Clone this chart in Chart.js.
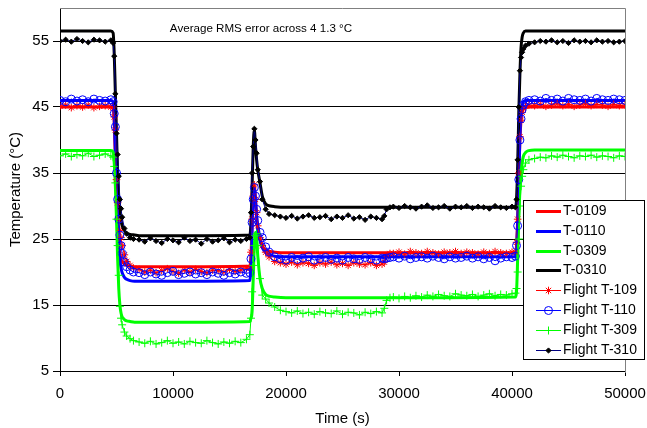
<!DOCTYPE html>
<html>
<head>
<meta charset="utf-8">
<script src="https://cdn.jsdelivr.net/npm/chart.js@4.4.1/dist/chart.umd.min.js"></script>
<style>
  html, body { margin: 0; padding: 0; background: #fff; }
  canvas { display: block; }
</style>
</head>
<body>
<canvas id="tempChart" width="647" height="428"></canvas>
<script>
// Tick values
const xTickValues = [0, 10000, 20000, 30000, 40000, 50000];
const yTickValues = [5, 15, 25, 35, 45, 55];

const seriesNames = ['T-0109', 'T-0110', 'T-0309', 'T-0310', 'Flight T-109', 'Flight T-110', 'Flight T-309', 'Flight T-310'];

// Model time base (s)
const modelTime = [
  0, 4500, 4700, 4800, 4900, 5000, 5100, 5200, 5300, 5400, 5500, 5700, 5900, 6200, 6600, 7000, 8000, 12000, 16800,
  16900, 17000, 17100, 17200, 17300, 17400, 17500, 17700, 17900, 18200, 18600, 19000, 20000, 24000, 28700, 34000, 40300,
  40400, 40500, 40600, 40700, 40800, 40900, 41000, 41200, 41500, 42000, 46000, 50000
];

const t0109 = [
  45.0, 45.0, 44.8, 42.5, 37, 31, 26.5, 24, 22.8, 22.0, 21.6, 21.2, 21.0, 20.9, 20.8, 20.8, 20.8, 20.8, 20.9,
  22.5, 27, 31.5, 33, 31, 28.5, 26.5, 25, 24, 23.4, 23.1, 23.0, 22.9, 22.9, 22.9, 22.9, 22.9,
  24, 28, 34.5, 40, 43, 44.3, 44.8, 45.0, 45.0, 45.0, 45.0, 45.0
];
const t0110 = [
  46.0, 46.0, 45.8, 43.5, 38, 31.5, 26.5, 23.5, 21.8, 20.6, 19.9, 19.2, 18.9, 18.7, 18.6, 18.6, 18.6, 18.6, 18.7,
  21, 26.5, 31, 32.8, 31, 28.5, 26.5, 24.8, 23.7, 23, 22.6, 22.4, 22.3, 22.3, 22.3, 22.3, 22.3,
  23.5, 27.5, 34, 40.5, 43.8, 45.2, 45.8, 46.0, 46.0, 46.0, 46.0, 46.0
];
const t0309 = [
  38.4, 38.4, 38.2, 36.5, 33, 28, 22, 17.5, 15, 13.8, 13.2, 12.8, 12.6, 12.5, 12.4, 12.4, 12.4, 12.4, 12.5,
  13, 14, 19, 24, 26, 25, 22.5, 19, 17.5, 16.6, 16.3, 16.2, 16.1, 16.1, 16.1, 16.1, 16.2,
  17, 22, 28, 32.5, 35, 36.5, 37.5, 38.1, 38.4, 38.5, 38.5, 38.5
];
const t0310 = [
  56.5, 56.5, 56.2, 53, 47, 41, 35, 31, 29, 27.8, 27, 26.3, 25.9, 25.7, 25.6, 25.5, 25.5, 25.5, 25.6,
  27.5, 33, 39, 41.5, 39, 37, 35.5, 33.5, 31.5, 30.3, 30.0, 29.9, 29.8, 29.8, 29.8, 29.8, 29.8,
  31, 36, 44, 50, 54, 55.6, 56.2, 56.5, 56.5, 56.5, 56.5, 56.5
];

// Flight time base (s)
const flightTime = [
  0, 500, 1000, 1500, 2000, 2500, 3000, 3500, 4000, 4500,
  4700, 4800, 4900, 5000, 5100, 5200, 5300, 5400, 5500, 5700, 5900, 6200, 6500,
  7000, 7500, 8000, 8500, 9000, 9500, 10000, 10500, 11000, 11500, 12000, 12500, 13000, 13500, 14000, 14500, 15000, 15500, 16000, 16500,
  16800, 16900, 17000, 17100, 17200, 17300, 17400, 17500, 17700, 17900, 18200, 18500,
  19000, 19500, 20000, 20500, 21000, 21500, 22000, 22500, 23000, 23500, 24000, 24500, 25000, 25500, 26000, 26500, 27000, 27500, 28000, 28500,
  28700, 28900, 29200,
  29500, 30000, 30500, 31000, 31500, 32000, 32500, 33000, 33500, 34000, 34500, 35000, 35500, 36000, 36500, 37000, 37500, 38000, 38500, 39000, 39500, 40000,
  40300, 40400, 40500, 40600, 40700, 40800, 40900, 41000, 41200, 41500,
  42000, 42500, 43000, 43500, 44000, 44500, 45000, 45500, 46000, 46500, 47000, 47500, 48000, 48500, 49000, 49500, 50000
];

const flight109 = [
  45.1, 45.3, 44.9, 45.2, 45.0, 45.3, 44.9, 45.1, 45.2, 45.0,
  45.0, 43.5, 41.5, 34, 30.5, 28, 26.3, 25.2, 24, 22.6, 21.6, 21, 20.6,
  20.4, 20.0, 20.3, 19.9, 20.2, 20.5, 20.1, 19.8, 20.3, 20.0, 20.4, 20.1, 19.9, 20.3, 20.2, 20.0, 20.4, 20.1, 20.3, 20.5,
  20.6, 23, 28, 31.5, 33.2, 31, 29, 27, 25.2, 24, 23, 22.3,
  21.6, 21.4, 21.2, 21.5, 21.1, 21.4, 21.3, 21.0, 21.4, 21.2, 21.5, 21.1, 21.3, 21.0, 21.4, 21.2, 21.1, 21.4, 21.0, 21.2,
  21.5, 22.4, 22.8,
  22.8, 23.0, 22.7, 23.1, 22.9, 22.8, 23.1, 22.9, 22.7, 23.0, 22.9, 23.1, 22.8, 23.0, 22.9, 22.7, 23.0, 22.8, 23.1, 22.9, 22.8, 23.0,
  23, 24.5, 28, 35, 40.5, 43, 44.2, 44.8, 45.1, 45.3,
  45.2, 45.4, 45.1, 45.3, 45.5, 45.2, 45.4, 45.1, 45.3, 45.5, 45.2, 45.4, 45.3, 45.1, 45.4, 45.2, 45.3
];
const flight110 = [
  46.0, 45.8, 46.2, 45.9, 46.1, 45.8, 46.2, 46.0, 45.9, 46.1,
  45.8, 44, 42, 35, 31, 28, 25.6, 24, 22.8, 21.5, 20.8, 20.3, 20.0,
  19.9, 19.6, 20.0, 19.7, 19.5, 19.9, 20.1, 19.6, 19.8, 20.0, 19.7, 19.9, 19.6, 20.0, 19.8, 19.5, 19.9, 19.7, 20.0, 19.8,
  19.9, 22, 27.5, 31, 32.8, 31.5, 29.5, 27.8, 26, 25.2, 23.8, 23,
  22.3, 22.0, 21.8, 22.2, 21.9, 22.1, 22.3, 21.8, 22.0, 22.2, 21.9, 22.1, 21.8, 22.2, 22.0, 21.9, 22.2, 22.0, 21.8, 22.1,
  22.0, 22.1, 22.2,
  22.3, 22.1, 22.4, 22.0, 22.2, 22.3, 22.1, 22.4, 22.2, 22.0, 22.3, 22.1, 22.2, 22.4, 22.1, 22.3, 22.0, 22.2, 21.7, 22.1, 22.3, 22.2,
  22.4, 24, 27, 34, 40, 43.2, 44.6, 45.3, 45.8, 46.0,
  46.1, 45.9, 46.3, 46.0, 46.2, 45.9, 46.3, 46.1, 46.0, 46.2, 45.9, 46.3, 46.1, 46.0, 46.2, 46.1, 46.0
];
const flight309 = [
  37.6, 37.9, 37.5, 37.8, 37.6, 38.0, 37.5, 37.7, 37.9, 37.6,
  37.4, 36, 33.5, 28, 24, 19.5, 14.8, 13, 12, 10.9, 10.3, 9.9, 9.6,
  9.4, 9.2, 9.5, 9.1, 9.3, 9.6, 9.2, 9.4, 9.1, 9.5, 9.3, 9.2, 9.6, 9.3, 9.1, 9.4, 9.2, 9.5, 9.3, 9.8,
  10.5, 13, 17, 21, 24, 25.5, 25.8, 24, 19, 16.5, 15.9, 15.3,
  14.7, 14.2, 14.0, 13.8, 14.1, 13.7, 13.9, 13.6, 14.0, 13.8, 13.7, 14.1, 13.6, 13.9, 13.8, 13.5, 13.9, 13.7, 14.0, 13.8,
  14.5, 15.7, 16.1,
  16.2, 16.0, 16.3, 16.1, 16.4, 16.2, 16.5, 16.3, 16.6, 16.4, 16.3, 16.7, 16.5, 16.4, 16.6, 16.3, 16.5, 16.7, 16.4, 16.6, 16.5, 16.7,
  16.8, 17.5, 20, 25, 30, 33, 34.5, 35.5, 36.5, 37,
  37.2, 37.4, 37.3, 37.6, 37.4, 37.7, 37.5, 37.3, 37.6, 37.5, 37.7, 37.4, 37.6, 37.5, 37.3, 37.6, 37.5
];
const flight310 = [
  55.0, 55.2, 54.9, 55.3, 55.0, 54.8, 55.2, 55.1, 54.9, 55.1,
  54.7, 52.7, 47, 41, 37.8, 34.5, 31, 29.6, 28.3, 26.6, 25.8, 25.2, 25.0,
  24.9, 24.6, 25.1, 24.7, 24.4, 25.0, 24.8, 24.5, 25.2, 24.7, 24.9, 24.3, 25.0, 24.6, 24.8, 25.1, 24.5, 24.9, 24.7, 25.0,
  25.2, 29, 35, 39, 41.7, 40, 38, 35.5, 33.7, 31, 29.5, 28.8,
  28.6, 28.4, 28.2, 28.5, 28.1, 28.4, 28.6, 28.2, 28.3, 28.5, 28.0, 28.4, 28.2, 28.6, 28.1, 28.3, 27.9, 28.4, 28.2, 28.0,
  28.5, 29.5, 29.8,
  29.9, 29.7, 30.0, 29.8, 29.6, 29.9, 30.1, 29.7, 29.8, 30.0, 29.6, 29.9, 29.8, 30.0, 29.7, 29.9, 29.8, 29.6, 30.0, 29.8, 29.7, 29.9,
  29.8, 31, 37, 45, 50.5, 52.5, 53.3, 53.8, 54.3, 54.6,
  54.8, 55.0, 54.9, 55.1, 54.8, 55.0, 54.7, 55.1, 54.9, 55.0, 54.8, 55.1, 54.9, 55.0, 54.8, 54.9, 55.0
];

const noteText = 'Average RMS error across 4 1.3 °C';

const FONT = "Arial, 'Liberation Sans', sans-serif";
Chart.defaults.font.family = FONT;
Chart.defaults.color = '#000';

function pairs(xs, ys) {
    return xs.map((x, i) => ({ x: x, y: ys[i] }));
}

function modelSet(i, data, color) {
    return {
        label: seriesNames[i],
        data: pairs(modelTime, data),
        borderColor: color,
        borderWidth: 3,
        pointRadius: 0,
        cubicInterpolationMode: 'monotone',
        order: 8 - i
    };
}

function flightSet(i, data, lineColor, style, markColor, fillColor, radius) {
    return {
        label: seriesNames[i],
        data: pairs(flightTime, data),
        borderColor: lineColor,
        borderWidth: 1,
        pointStyle: style,
        pointRadius: radius,
        pointBorderColor: markColor,
        pointBackgroundColor: fillColor,
        pointBorderWidth: 1,
        order: 8 - i
    };
}

// gray top/right frame of the plot
const frame = {
    id: 'frame',
    beforeDatasetsDraw(chart) {
        const { ctx, chartArea: a } = chart;
        ctx.save();
        ctx.strokeStyle = '#808080';
        ctx.lineWidth = 1;
        ctx.beginPath();
        ctx.moveTo(a.left, a.top + 0.5);
        ctx.lineTo(Math.round(a.right) + 0.5, a.top + 0.5);
        ctx.lineTo(Math.round(a.right) + 0.5, a.bottom + 2);
        ctx.stroke();
        ctx.restore();
    }
};

const note = {
    id: 'note',
    afterDraw(chart) {
        const ctx = chart.ctx;
        ctx.save();
        ctx.font = '11.6px ' + FONT;
        ctx.fillStyle = '#000';
        ctx.textAlign = 'center';
        ctx.textBaseline = 'middle';
        ctx.fillText(noteText, 261, 29);
        ctx.restore();
    }
};

// legend box drawn over the plot, like the original
const legendBox = {
    id: 'legendBox',
    afterDraw(chart) {
        const ctx = chart.ctx;
        ctx.save();
        ctx.fillStyle = '#fff';
        ctx.fillRect(523, 200, 122, 160);
        ctx.strokeStyle = '#000';
        ctx.lineWidth = 1;
        ctx.strokeRect(523.5, 200.5, 121, 159);
        ctx.font = '14px ' + FONT;
        ctx.textBaseline = 'middle';
        chart.data.datasets.forEach((ds, i) => {
            const y = Math.round(211 + i * 19.8) + 0.5;
            ctx.strokeStyle = ds.borderColor;
            ctx.lineWidth = ds.borderWidth;
            ctx.beginPath();
            ctx.moveTo(536, y);
            ctx.lineTo(561, y);
            ctx.stroke();
            if (ds.pointRadius > 0 && Chart.helpers && Chart.helpers.drawPoint) {
                ctx.fillStyle = ds.pointBackgroundColor;
                ctx.strokeStyle = ds.pointBorderColor;
                ctx.lineWidth = ds.pointBorderWidth;
                Chart.helpers.drawPoint(ctx, { pointStyle: ds.pointStyle, radius: ds.pointRadius, borderWidth: ds.pointBorderWidth, rotation: 0 }, 548.5, y);
            }
            ctx.fillStyle = '#000';
            ctx.fillText(ds.label, 563, y);
        });
        ctx.restore();
    }
};

new Chart(document.getElementById('tempChart'), {
    type: 'line',
    data: {
        datasets: [
            modelSet(0, t0109, '#ff0000'),
            modelSet(1, t0110, '#0000ff'),
            modelSet(2, t0309, '#00ff00'),
            modelSet(3, t0310, '#000000'),
            flightSet(4, flight109, '#ff0000', 'star', '#ff0000', '#ff0000', 3.8),
            flightSet(5, flight110, '#0000ff', 'circle', '#0000ff', 'rgba(0,0,0,0)', 4),
            flightSet(6, flight309, '#00ff00', 'cross', '#00ff00', '#00ff00', 4),
            flightSet(7, flight310, '#000080', 'rectRot', '#000000', '#000000', 2.6)
        ]
    },
    options: {
        responsive: false,
        animation: false,
        layout: { padding: { top: 8, right: 22, left: 0, bottom: 0 } },
        scales: {
            x: {
                type: 'linear',
                min: 0,
                max: 50000,
                afterBuildTicks: s => { s.ticks = xTickValues.map(v => ({ value: v })); },
                afterFit: s => { s.height = 57; s.paddingLeft = 0; s.paddingRight = 0; },
                ticks: { font: { size: 15 }, padding: 9, maxRotation: 0, callback: v => String(v) },
                grid: { drawOnChartArea: false, color: '#000', tickLength: 5 },
                border: { color: '#000', width: 1 },
                title: { display: true, text: 'Time (s)', font: { size: 15 }, padding: { top: 0, bottom: 0 } }
            },
            y: {
                min: 5,
                max: 60,
                afterBuildTicks: s => { s.ticks = yTickValues.map(v => ({ value: v })); },
                afterFit: s => { s.width = 60; s.paddingTop = 0; s.paddingBottom = 0; },
                ticks: { font: { size: 15 }, padding: 4 },
                grid: { color: '#000', tickLength: 7 },
                border: { color: '#000', width: 1 },
                title: { display: true, text: 'Temperature (°C)', font: { size: 15 }, padding: { top: 7, bottom: 0 } }
            }
        },
        plugins: {
            legend: { display: false },
            tooltip: { enabled: false }
        }
    },
    plugins: [frame, note, legendBox]
});
</script>
</body>
</html>
